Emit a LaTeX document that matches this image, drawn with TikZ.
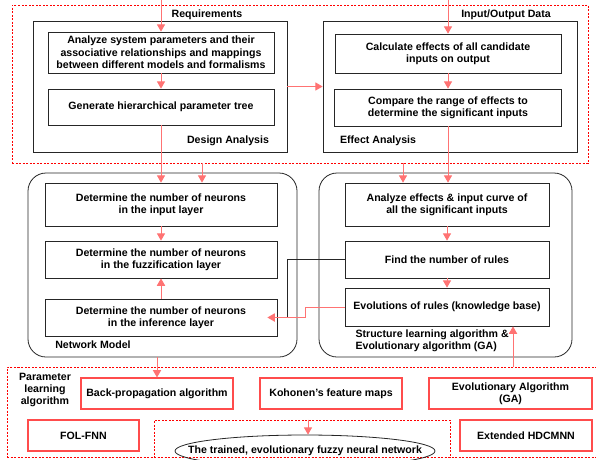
\documentclass[tikz,border=0pt]{standalone}
\usepackage{fontspec}
\setmainfont{Liberation Sans}
\usetikzlibrary{arrows}
\usetikzlibrary{shapes.geometric}

\begin{document}
\begin{tikzpicture}[x=1pt,y=-1pt,
                font=\bfseries\fontsize{10.6}{12.4}\selectfont,
                panel/.style={draw=black!85,line width=0.8pt},
                stepbox/.style={draw=black!85,line width=0.8pt,align=center},
                algbox/.style={draw=red!70,line width=1.1pt,align=center,minimum height=31pt},
                region/.style={draw=red,line width=0.6pt,dash pattern=on 2pt off 1.5pt},
                flow/.style={red!55,line width=1pt,-triangle 60},
                ]
            \useasboundingbox (0,0) rectangle (596,459);

            \node[region,minimum width=576pt,minimum height=158pt] (frontend) at (300,84) {};
            \node[region,minimum width=593pt,minimum height=90pt] (learning) at (303.5,412) {};
            \node[region,minimum width=296pt,minimum height=37pt] (result) at (302,438.5) {};

            \node[panel,minimum width=254pt,minimum height=131pt] (design) at (160,86.5) {};
            \node (reqlabel) at (207,15) {Requirements};
            \node[stepbox,minimum width=226pt,minimum height=41pt] (params) at (161,52.5) {Analyze system parameters and their\\associative relationships and mappings\\between different models and formalisms};
            \node[stepbox,minimum width=226pt,minimum height=36pt] (tree) at (161,107) {Generate hierarchical parameter tree};
            \node (designlabel) at (228,141) {Design Analysis};

            \node[panel,minimum width=254pt,minimum height=131pt] (effect) at (450,86.5) {};
            \node (iolabel) at (506,15) {Input/Output Data};
            \node[stepbox,minimum width=226pt,minimum height=39pt] (candidates) at (448,53.5) {Calculate effects of all candidate\\inputs on output};
            \node[stepbox,minimum width=227pt,minimum height=37pt] (ranges) at (448,107.5) {Compare the range of effects to\\determine the significant inputs};
            \node (effectlabel) at (378,141) {Effect Analysis};

            \node[panel,rounded corners=18pt,minimum width=269pt,minimum height=184pt] (network) at (162.5,265) {};
            \node[stepbox,minimum width=232pt,minimum height=43pt] (inputlayer) at (161,204.5) {Determine the number of neurons\\in the input layer};
            \node[stepbox,minimum width=232pt,minimum height=37pt] (fuzzlayer) at (161,259.5) {Determine the number of neurons\\in the fuzzification layer};
            \node[stepbox,minimum width=232pt,minimum height=37pt] (inferlayer) at (161,317.5) {Determine the number of neurons\\in the inference layer};
            \node (networklabel) at (93,345) {Network Model};

            \node[panel,rounded corners=18pt,minimum width=253pt,minimum height=184pt] (structure) at (445.5,265) {};
            \node[stepbox,minimum width=204pt,minimum height=43pt] (curves) at (447,204.5) {Analyze effects \& input curve of\\all the significant inputs};
            \node[stepbox,minimum width=204pt,minimum height=37pt] (rules) at (447,259.5) {Find the number of rules};
            \node[stepbox,minimum width=204pt,minimum height=38pt] (evolution) at (447,307) {Evolutions of rules (knowledge base)};
            \node[align=left,anchor=west] (structurelabel) at (352,341) {Structure learning algorithm \&\\Evolutionary algorithm (GA)};

            \node[align=center] (paramlabel) at (45,390) {Parameter\\learning\\algorithm};
            \node[algbox,minimum width=152pt] (backprop) at (157,393.5) {Back-propagation algorithm};
            \node[algbox,minimum width=142pt] (kohonen) at (331,393.5) {Kohonen's feature maps};
            \node[algbox,minimum width=163pt] (ga) at (510.5,393.5) {Evolutionary Algorithm\\(GA)};
            \node[algbox,minimum width=111pt] (folfnn) at (83.5,435.5) {FOL-FNN};
            \node[algbox,minimum width=132pt] (hdcmnn) at (526,435.5) {Extended HDCMNN};
            \node[draw=black!85,line width=0.8pt,ellipse,inner xsep=-34pt,inner ysep=0pt,minimum width=260pt,minimum height=32pt] (trained) at (305,451) {The trained, evolutionary fuzzy neural network};

            \coordinate (designin) at (161,0);
            \coordinate (effectin) at (448,0);
            \coordinate (join) at ([xshift=10pt]inferlayer.east);
            \coordinate (inferin) at ([xshift=-10pt]inferlayer.east);

            \draw[flow] (designin) -- (designin |- params.north);
            \draw[flow] (params) -- (tree);
            \draw[flow] (tree) -- (inputlayer);
            \draw[flow] ([xshift=41pt]inputlayer.north |- frontend.south) -- ([xshift=41pt]inputlayer.north);
            \draw[flow] (design.east) -- (effect.west);

            \draw[flow] (effectin) -- (effectin |- candidates.north);
            \draw[flow] (candidates) -- (ranges);
            \draw[flow] (ranges.south) -- (ranges.south |- curves.north);
            \draw[flow] ([xshift=-44pt]curves.north |- frontend.south) -- ([xshift=-44pt]curves.north);

            \draw[flow] (inputlayer) -- (fuzzlayer);
            \draw[flow] (inferlayer) -- (fuzzlayer);
            \draw[flow] (curves) -- (rules);
            \draw[flow] (rules) -- (evolution);

            \draw[black!85,line width=0.8pt] (rules.west) -| (join);
            \draw[flow] (evolution.west) -- ++(-39,0) |- (inferin);

            \draw[flow] (network.south -| backprop.north) -- (backprop.north);
            \draw[flow] ([xshift=66pt]evolution.south |- learning.north) -- ([xshift=66pt]evolution.south);
            \draw[flow] ([xshift=6pt]result.north) -- ([xshift=6pt]result.north |- trained.north);

            \end{tikzpicture}
\end{document}
